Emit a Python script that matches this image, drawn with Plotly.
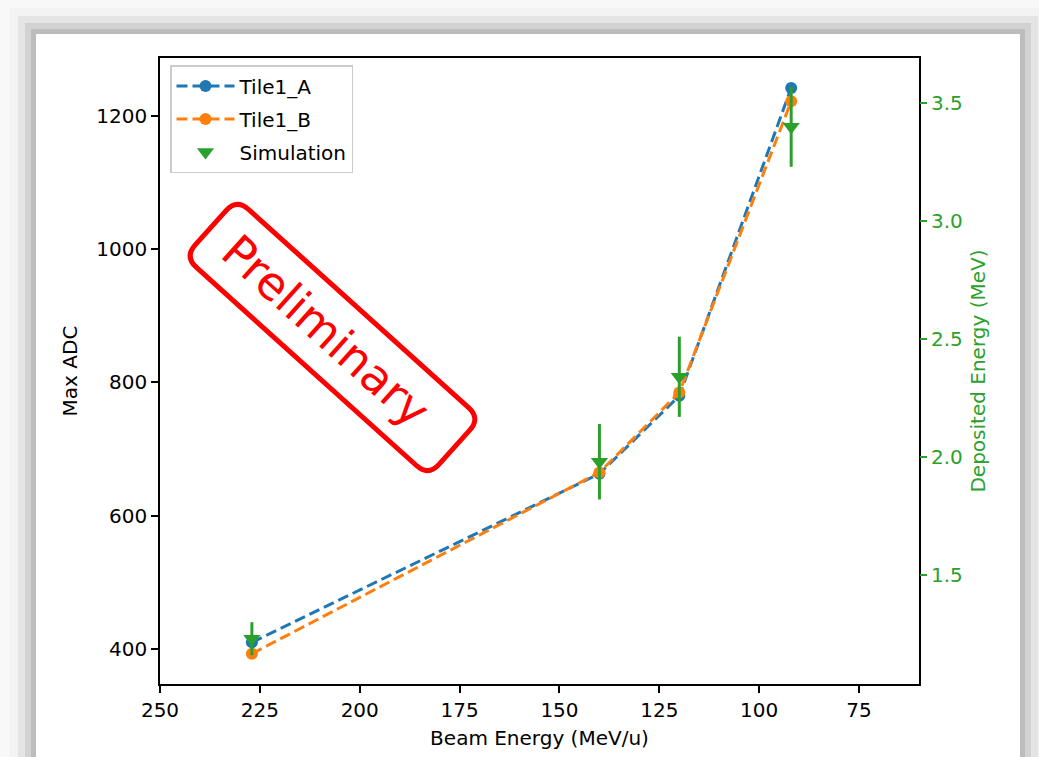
import plotly.graph_objects as go
import math

# ---------------- data ----------------
beam_energy = [227, 140, 120, 92]
tile1_a = [410, 663, 780, 1242]
tile1_b = [393, 665, 785, 1222]
sim_energy = [1.23, 1.98, 2.34, 3.40]
sim_err = [0.07, 0.16, 0.17, 0.17]
x_ticks = [250, 225, 200, 175, 150, 125, 100, 75]
y2_ticks = [1.5, 2.0, 2.5, 3.0, 3.5]

# ---------------- layout constants ----------------
W, H = 1039, 757
ML, MR, MT, MB = 160, 120, 58, 73
PW, PH = W - ML - MR, H - MT - MB
FONT = "DejaVu Sans"
BLUE, ORANGE, GREEN = "#1f77b4", "#ff7f0e", "#2ca02c"


def px2paper(x, y):
    return (x - ML) / PW, (H - MB - y) / PH


fig = go.Figure()

fig.add_trace(go.Scatter(
    x=beam_energy, y=tile1_a, name="Tile1_A", mode="lines+markers",
    line=dict(color=BLUE, width=3, dash="11px,5px"),
    marker=dict(color=BLUE, size=12), legendgroup="a"))
fig.add_trace(go.Scatter(
    x=beam_energy, y=tile1_b, name="Tile1_B", mode="lines+markers",
    line=dict(color=ORANGE, width=3, dash="11px,5px"),
    marker=dict(color=ORANGE, size=12), legendgroup="b"))
fig.add_trace(go.Scatter(
    x=beam_energy, y=sim_energy, name="Simulation", mode="markers",
    marker=dict(color=GREEN, size=15, symbol="triangle-down"),
    error_y=dict(type="data", array=sim_err, color=GREEN, thickness=3, width=0),
    yaxis="y2", legendgroup="c"))

# ---------------- background / shadow ----------------
shapes = []
panel = (36, 34, 1020, 800)
shadow = [(26, "#f3f3f3"), (18, "#e4e4e4"), (11, "#d2d2d2"), (5, "#bcbcbc")]
for d, col in shadow:
    x0, y0 = px2paper(panel[0] - d, panel[1] - d)
    x1, y1 = px2paper(panel[2] + d, panel[3] + d)
    shapes.append(dict(type="rect", xref="paper", yref="paper", x0=x0, y0=y0,
                       x1=x1, y1=y1, fillcolor=col, line=dict(width=0), layer="below"))
x0, y0 = px2paper(panel[0], panel[1])
x1, y1 = px2paper(panel[2], panel[3])
shapes.append(dict(type="rect", xref="paper", yref="paper", x0=x0, y0=y0,
                   x1=x1, y1=y1, fillcolor="white", line=dict(width=0), layer="below"))

# ---------------- "Preliminary" stamp ----------------
cx, cy = 332.5, 337.5
half_l, half_w, rad = 164, 39, 16
th = math.radians(42)


def rot(u, v):
    x = cx + u * math.cos(th) - v * math.sin(th)
    y = cy + u * math.sin(th) + v * math.cos(th)
    px, py = px2paper(x, y)
    return f"{px:.5f},{py:.5f}"


L, Wd, r = half_l, half_w, rad
path = (f"M{rot(-L + r, -Wd)} L{rot(L - r, -Wd)} Q{rot(L, -Wd)} {rot(L, -Wd + r)} "
        f"L{rot(L, Wd - r)} Q{rot(L, Wd)} {rot(L - r, Wd)} "
        f"L{rot(-L + r, Wd)} Q{rot(-L, Wd)} {rot(-L, Wd - r)} "
        f"L{rot(-L, -Wd + r)} Q{rot(-L, -Wd)} {rot(-L + r, -Wd)} Z")
shapes.append(dict(type="path", xref="paper", yref="paper", path=path,
                   line=dict(color="#ff0000", width=5), fillcolor="rgba(0,0,0,0)"))

tx, ty = px2paper(326, 331)

fig.update_layout(
    width=W, height=H,
    margin=dict(l=ML, r=MR, t=MT, b=MB, autoexpand=False),
    paper_bgcolor="#f8f8f8", plot_bgcolor="rgba(0,0,0,0)",
    font=dict(family=FONT, size=20, color="black"),
    shapes=shapes,
    annotations=[dict(text="Preliminary", x=tx, y=ty, xref="paper", yref="paper",
                      showarrow=False, textangle=42, xanchor="center", yanchor="middle",
                      font=dict(family=FONT, size=46, color="#ff0000"))],
    showlegend=True,
    legend=dict(x=(170 - ML) / PW, y=(H - MB - 65) / PH, xanchor="left", yanchor="top",
                bgcolor="rgba(255,255,255,0.85)", bordercolor="#cccccc", borderwidth=1.5,
                font=dict(family=FONT, size=20), tracegroupgap=4, itemwidth=58,
                traceorder="grouped"),
    xaxis=dict(range=[250, 60], tickvals=x_ticks, ticks="outside", ticklen=7, tickwidth=1.6,
               tickcolor="black", showline=True, linecolor="black", linewidth=1.6, mirror=True,
               showgrid=False, zeroline=False,
               title=dict(text="Beam Energy (MeV/u)", standoff=10, font=dict(size=20))),
    yaxis=dict(range=[347.5, 1287], dtick=200, tick0=0, ticks="outside", ticklen=7, tickwidth=1.6,
               tickcolor="black", showline=True, linecolor="black", linewidth=1.6, mirror=True,
               showgrid=False, zeroline=False,
               title=dict(text="Max ADC", standoff=13, font=dict(size=20))),
    yaxis2=dict(range=[1.038, 3.691], tickvals=y2_ticks, tickformat=".1f", overlaying="y",
                side="right", ticks="outside", ticklen=7, tickwidth=1.6, tickcolor=GREEN,
                tickfont=dict(color=GREEN, size=20), showline=False, showgrid=False,
                zeroline=False,
                title=dict(text="Deposited Energy (MeV)", standoff=9,
                           font=dict(color=GREEN, size=20))),
)

fig.write_html(
    "out.html",
    config={"displayModeBar": False},
    post_script="document.body.style.margin='0';document.body.style.overflow='hidden';",
)
